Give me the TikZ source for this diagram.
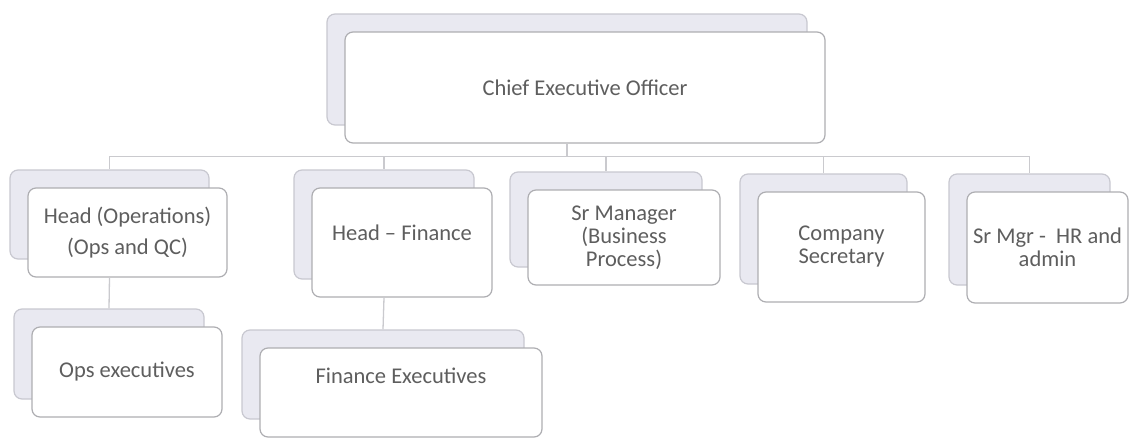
\documentclass[tikz,border=0pt]{standalone}
\usepackage{fontspec}
\setmainfont{Carlito}
\usetikzlibrary{shadows}

\definecolor{postline}{HTML}{AEAEB2}
\definecolor{postback}{HTML}{E9E9F1}
\definecolor{postshade}{HTML}{C8C8D0}
\definecolor{wire}{HTML}{CACACE}
\definecolor{posttext}{HTML}{5E5E5E}

\tikzstyle{post} = [draw=postline, fill=white, rounded corners=8pt, line width=1.2pt,
    inner sep=0pt, align=center, text=posttext, font=\fontsize{22.5}{23}\selectfont,
    copy shadow={shadow xshift=-18pt, shadow yshift=18pt, fill=postback, draw=postshade}]
\tikzstyle{wire} = [draw=wire, line width=1.3pt]

\begin{document}
\begin{tikzpicture}[x=1pt, y=-1pt]
    \useasboundingbox (0,0) rectangle (1141,439);

    % top of the chart
    \node[post, minimum width=480pt, minimum height=111pt] (ceo) at (585,87.5) {Chief Executive Officer};

    % heads reporting to the CEO
    \node[post, minimum width=199pt, minimum height=89pt] (hops) at (127.5,232.5) {Head (Operations)\\[8pt](Ops and QC)};
    \node[post, minimum width=180pt, minimum height=109pt] (hfin) at (402,242.5) {Head -- Finance\\[-3pt]\mbox{}};
    \node[post, minimum width=192pt, minimum height=95pt] (srbp) at (624,237.5) {Sr Manager\\(Business\\Process)};
    \node[post, minimum width=167pt, minimum height=110pt] (cosec) at (841.5,247) {Company\\Secretary};
    \node[post, minimum width=161pt, minimum height=111pt] (srhr) at (1047.5,247.5) {Sr Mgr -~ HR and\\admin};

    % executives
    \node[post, minimum width=190pt, minimum height=90pt] (opsx) at (127,372) {Ops executives};
    \node[post, minimum width=282pt, minimum height=89pt] (finx) at (401,392.5) {Finance Executives\\[11pt]\mbox{}};

    \foreach \n in {hops, hfin, srbp, cosec, srhr}
        \draw[wire] ([xshift=-18pt]ceo.south) -- ++(0,13) -| ([xshift=-18pt, yshift=18pt]\n.north);

    \draw[wire] ([xshift=-18pt]hops.south) -- ([xshift=-18pt, yshift=18pt]opsx.north);
    \draw[wire] ([xshift=-18pt]hfin.south) -- ([xshift=-18pt, yshift=18pt]finx.north);
\end{tikzpicture}
\end{document}
